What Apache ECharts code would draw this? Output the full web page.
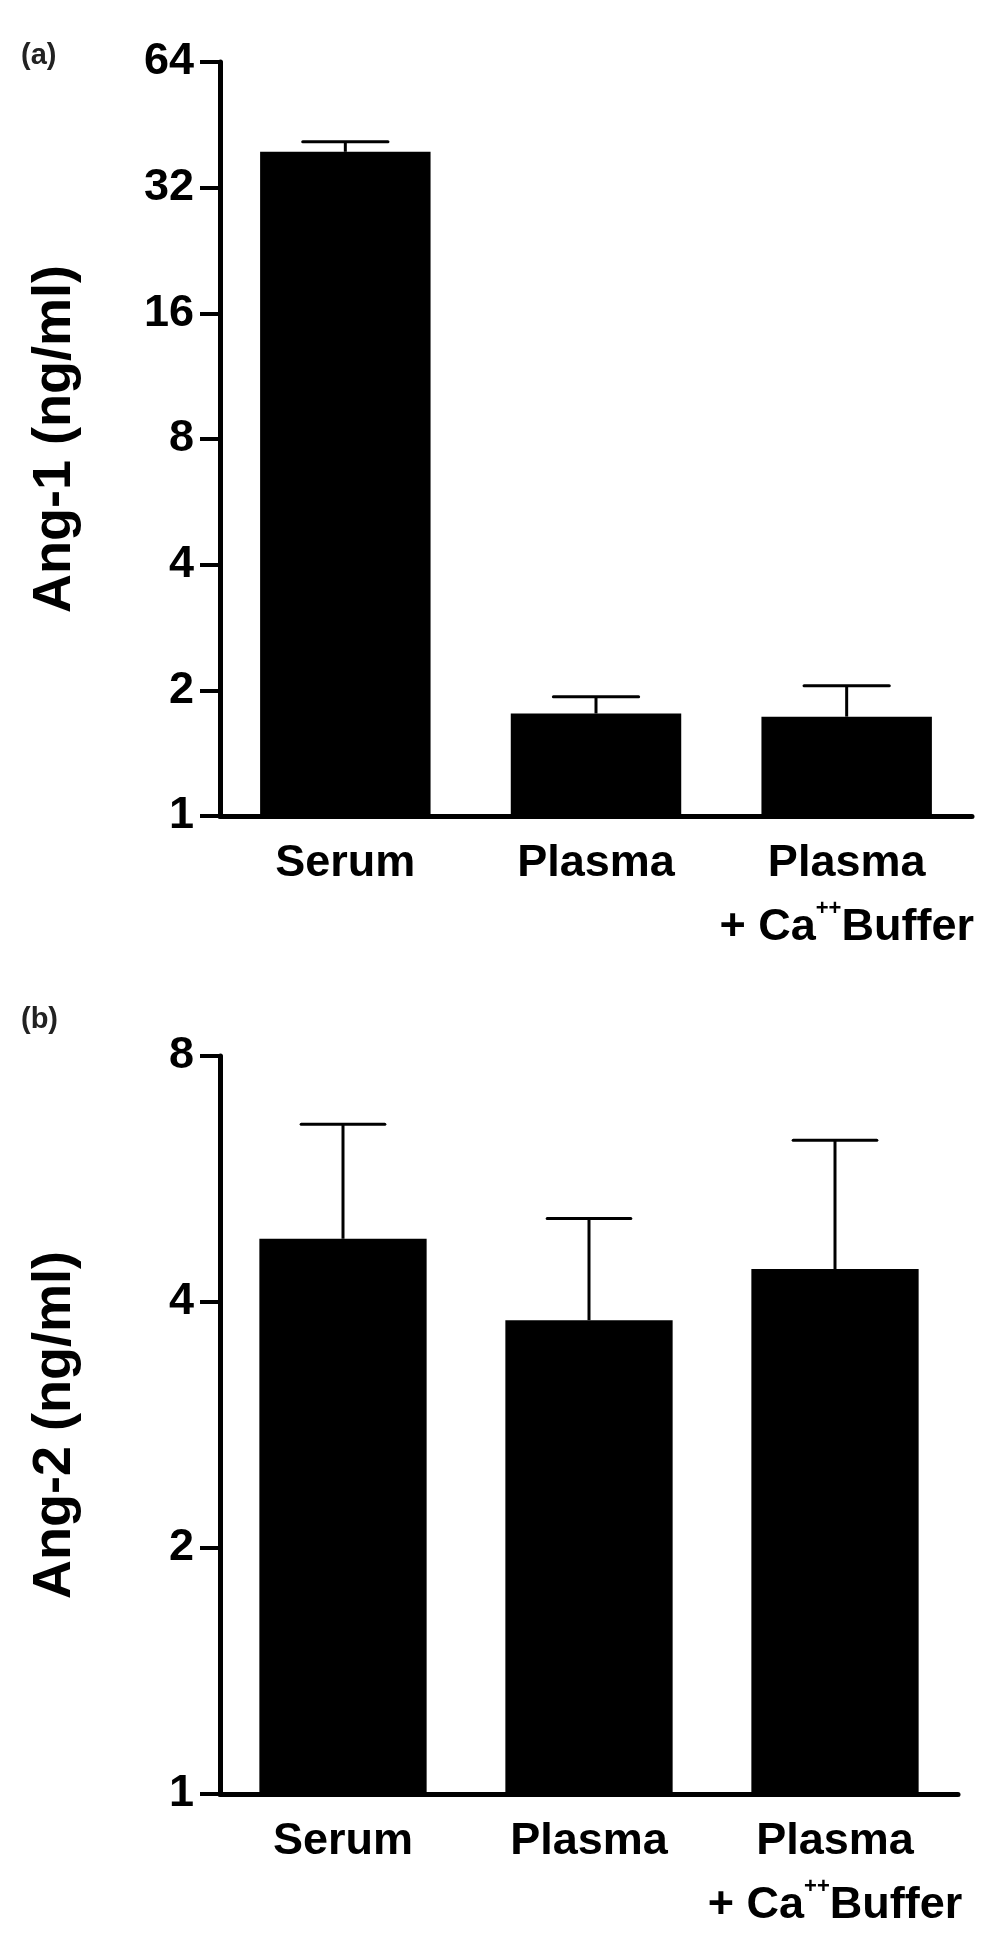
<!DOCTYPE html>
<html>
<head>
<meta charset="utf-8">
<script src="https://cdn.jsdelivr.net/npm/echarts@6/dist/echarts.min.js"></script>
<style>
html,body{margin:0;padding:0;background:#fff;}
#chart{width:1004px;height:1947px;}
</style>
</head>
<body>
<div id="chart"></div>
<script>
// ---- data ----
const categories = ['Serum', 'Plasma', 'Plasma + Ca++Buffer'];
const ang1Mean = [39.0, 1.76, 1.73];
const ang1Err  = [2.2, 0.17, 0.32];
const ang2Mean = [4.78, 3.80, 4.39];
const ang2Err  = [1.82, 1.26, 1.92];
const ang1Ticks = [1, 2, 4, 8, 16, 32, 64];
const ang2Ticks = [1, 2, 4, 8];
const panelLabels = ['(a)', '(b)'];
const yTitles = ['Ang-1 (ng/ml)', 'Ang-2 (ng/ml)'];

const FONT = '"Liberation Sans", Arial, Helvetica, sans-serif';

function catLabel(v) {
  if (v === 'Plasma + Ca++Buffer') return '{a|Plasma}\n{a|+ Ca}{s|++}{a|Buffer}';
  return '{a|' + v + '}';
}

function errData(mean, err) {
  return mean.map((m, i) => [i, m, m + err[i]]);
}

function errRender(params, api) {
  const i = api.value(0);
  const p0 = api.coord([i, api.value(1)]);
  const p1 = api.coord([i, api.value(2)]);
  const band = params.coordSys.width / categories.length;
  const half = band * 0.68 / 4;
  return {
    type: 'group',
    children: [
      { type: 'line', shape: { x1: p0[0], y1: p0[1], x2: p1[0], y2: p1[1] }, style: { stroke: '#000', lineWidth: 3 } },
      { type: 'line', shape: { x1: p1[0] - half, y1: p1[1], x2: p1[0] + half, y2: p1[1] }, style: { stroke: '#000', lineWidth: 3, lineCap: 'round' } }
    ]
  };
}

function xAxisCfg(gridIndex) {
  return {
    type: 'category', gridIndex: gridIndex, data: categories,
    axisLine: { lineStyle: { color: '#000', width: 5 } },
    axisTick: { alignWithLabel: true, length: 20, lineStyle: { color: '#000', width: 4 } },
    axisLabel: {
      margin: 16, formatter: catLabel, interval: 0, color: '#000',
      rich: {
        a: { fontFamily: FONT, fontWeight: 'bold', fontSize: 45, lineHeight: 64, color: '#000' },
        s: { fontFamily: FONT, fontWeight: 'bold', fontSize: 22, lineHeight: 22, verticalAlign: 'top', color: '#000', padding: [2, 0, 0, 0] }
      }
    },
    splitLine: { show: false }
  };
}

function yAxisCfg(gridIndex, ticks, name) {
  return {
    type: 'log', logBase: 2, gridIndex: gridIndex,
    min: ticks[0], max: ticks[ticks.length - 1], interval: 1,
    name: name, nameLocation: 'middle', nameGap: 138, nameRotate: 90,
    nameTextStyle: { fontFamily: FONT, fontWeight: 'bold', fontSize: 54, color: '#000' },
    axisLine: { show: true, lineStyle: { color: '#000', width: 5 } },
    axisTick: { show: true, length: 20, lineStyle: { color: '#000', width: 4 } },
    axisLabel: { margin: 26, fontFamily: FONT, fontWeight: 'bold', fontSize: 45, color: '#000',
      formatter: v => String(Math.round(v)) },
    splitLine: { show: false }
  };
}

const chart = echarts.init(document.getElementById('chart'), null, { renderer: 'canvas' });
chart.setOption({
  backgroundColor: '#fff',
  animation: false,
  graphic: [
    { type: 'text', left: 21, top: 41, style: { text: panelLabels[0], font: 'bold 29px ' + FONT, fill: '#222' } },
    { type: 'text', left: 21, top: 1005, style: { text: panelLabels[1], font: 'bold 29px ' + FONT, fill: '#222' } }
  ],
  grid: [
    { left: 220, top: 62, width: 752, height: 754 },
    { left: 220, top: 1056, width: 738, height: 738 }
  ],
  xAxis: [xAxisCfg(0), xAxisCfg(1)],
  yAxis: [yAxisCfg(0, ang1Ticks, yTitles[0]), yAxisCfg(1, ang2Ticks, yTitles[1])],
  series: [
    { type: 'bar', xAxisIndex: 0, yAxisIndex: 0, data: ang1Mean, barWidth: '68%', itemStyle: { color: '#000' } },
    { type: 'custom', xAxisIndex: 0, yAxisIndex: 0, data: errData(ang1Mean, ang1Err), renderItem: errRender, encode: { x: 0, y: [1, 2] }, z: 1 },
    { type: 'bar', xAxisIndex: 1, yAxisIndex: 1, data: ang2Mean, barWidth: '68%', itemStyle: { color: '#000' } },
    { type: 'custom', xAxisIndex: 1, yAxisIndex: 1, data: errData(ang2Mean, ang2Err), renderItem: errRender, encode: { x: 0, y: [1, 2] }, z: 1 }
  ]
});
</script>
</body>
</html>
